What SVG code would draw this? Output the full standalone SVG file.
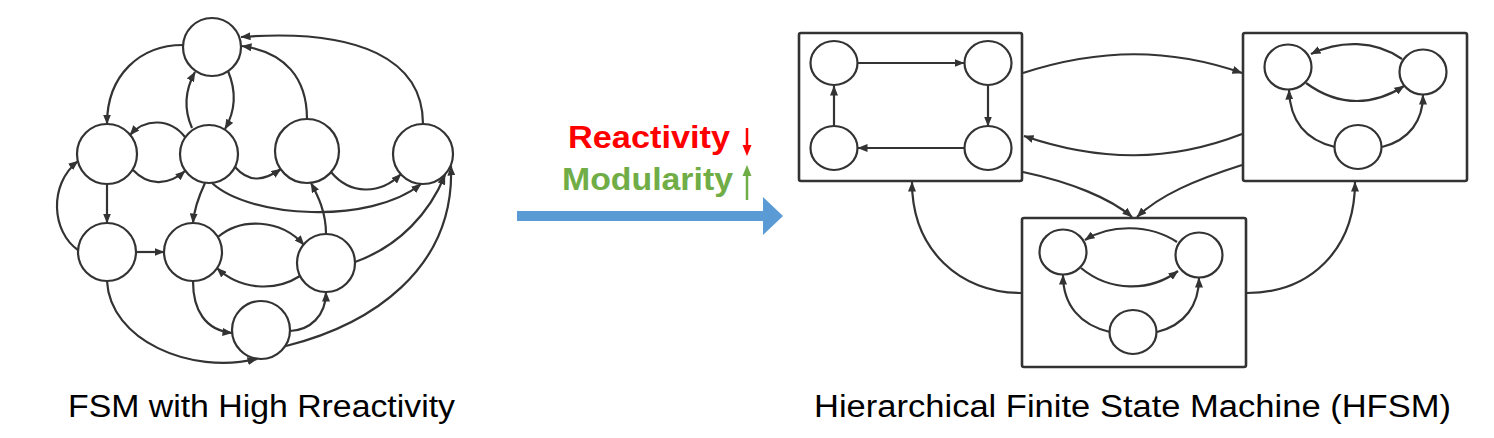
<svg xmlns="http://www.w3.org/2000/svg" width="1494" height="438" viewBox="0 0 1494 438">
<defs>
<marker id="ah" markerUnits="userSpaceOnUse" markerWidth="10" markerHeight="8" refX="9.5" refY="4" orient="auto">
<path d="M0,0 L10,4 L0,8 z" fill="#333"/>
</marker>
<style>
.n{fill:#fff;stroke:#333;stroke-width:2.2}
.b{fill:#fff;stroke:#333;stroke-width:2.6}
.e{fill:none;stroke:#333;stroke-width:2.2;marker-end:url(#ah)}
.lbl{font-family:"Liberation Sans",Arial,sans-serif;font-size:31px;fill:#000}
.mid{font-family:"Liberation Sans",Arial,sans-serif;font-size:32px;font-weight:bold}
</style>
</defs>
<rect width="1494" height="438" fill="#fff"/>

<!-- Left FSM nodes -->
<g id="fsm-nodes">
<circle id="f-top" class="n" cx="212" cy="47" r="29"/>
<circle id="f-a" class="n" cx="107" cy="154" r="30"/>
<circle id="f-b" class="n" cx="209" cy="154" r="29"/>
<circle id="f-c" class="n" cx="307" cy="151" r="32"/>
<circle id="f-d" class="n" cx="423" cy="154" r="30"/>
<circle id="f-e" class="n" cx="107" cy="252" r="29"/>
<circle id="f-f" class="n" cx="193" cy="252" r="29"/>
<circle id="f-g" class="n" cx="326" cy="263" r="29"/>
<circle id="f-h" class="n" cx="261" cy="330" r="29"/>
</g>

<g id="fsm-edges">
<path class="e" d="M183,45 C140,45 107,75 107,124"/>
<path class="e" d="M192,128 C184,110 184,92 195,72"/>
<path class="e" d="M228,71 C236,90 236,110 225,129"/>
<path class="e" d="M185,137 C170,118 145,118 130,135"/>
<path class="e" d="M133,170 C148,186 168,186 185,171"/>
<path class="e" d="M235,167 C250,184 265,180 281,169"/>
<path class="e" d="M307,119 C307,78 285,52 242,46"/>
<path class="e" d="M423,124 C423,60 360,28 241,37"/>
<path class="e" d="M331,172 C350,195 380,195 401,174"/>
<path class="e" d="M107,184 L107,223"/>
<path class="e" d="M78,250 C52,232 48,185 78,161"/>
<path class="e" d="M136,252 L164,252"/>
<path class="e" d="M205,183 C198,198 194,210 193,223"/>
<path class="e" d="M212,183 C250,218 370,225 421,184"/>
<path class="e" d="M218,237 C240,218 280,218 304,245"/>
<path class="e" d="M300,276 C275,292 240,290 217,268"/>
<path class="e" d="M326,234 C326,212 318,196 311,183"/>
<path class="e" d="M355,262 C400,246 430,212 445,175"/>
<path class="e" d="M193,281 C193,310 205,330 232,333"/>
<path class="e" d="M290,331 C310,330 326,316 326,292"/>
<path class="e" d="M107,281 C110,340 190,375 257,359"/>
<path class="e" d="M286,346 C370,325 455,270 451,166"/>
</g>

<!-- Middle -->
<g id="middle">
<text class="mid" x="568" y="148" fill="#ff0000" textLength="162" lengthAdjust="spacingAndGlyphs">Reactivity</text>
<text class="mid" x="562" y="190" fill="#70ad47" textLength="171" lengthAdjust="spacingAndGlyphs">Modularity</text>
<line x1="747" y1="128" x2="747" y2="147" stroke="#ff0000" stroke-width="2.5"/>
<polygon points="742.5,145 751.5,145 747,156" fill="#ff0000"/>
<line x1="747" y1="174" x2="747" y2="200" stroke="#70ad47" stroke-width="2.5"/>
<polygon points="742.5,176 751.5,176 747,165" fill="#70ad47"/>
<polygon points="517,211 763,211 763,197 783,216 763,235 763,221 517,221" fill="#5b9bd5"/>
</g>

<!-- Right HFSM -->
<g id="box1">
<rect class="b" x="799" y="33" width="223" height="148" rx="2"/>
<ellipse class="n" cx="834" cy="63" rx="23.5" ry="22"/>
<ellipse class="n" cx="988" cy="63" rx="23.5" ry="22"/>
<ellipse class="n" cx="834" cy="148" rx="23.5" ry="22"/>
<ellipse class="n" cx="988" cy="148" rx="23.5" ry="22"/>
<path class="e" d="M858,63 L964,63"/>
<path class="e" d="M988,86 L988,126"/>
<path class="e" d="M964,148 L858,148"/>
<path class="e" d="M834,126 L834,86"/>
</g>
<g id="box2">
<rect class="b" x="1243" y="33" width="224" height="148" rx="2"/>
<ellipse class="n" cx="1288" cy="67" rx="23.5" ry="22.5"/>
<ellipse class="n" cx="1423" cy="72" rx="23.5" ry="22.5"/>
<ellipse class="n" cx="1358" cy="147" rx="23.5" ry="22"/>
<path class="e" d="M1402,59 C1375,40 1340,40 1311,54"/>
<path class="e" d="M1306,83 C1340,108 1375,105 1404,86"/>
<path class="e" d="M1335,147 C1305,140 1290,120 1289,90"/>
<path class="e" d="M1382,147 C1410,140 1423,120 1423,95"/>
</g>
<g id="box3">
<rect class="b" x="1022" y="218" width="224" height="149" rx="2"/>
<ellipse class="n" cx="1063" cy="252" rx="23.5" ry="22.5"/>
<ellipse class="n" cx="1199" cy="255" rx="23.5" ry="22.5"/>
<ellipse class="n" cx="1133" cy="332" rx="23.5" ry="22"/>
<path class="e" d="M1177,242 C1150,224 1110,224 1085,240"/>
<path class="e" d="M1081,268 C1110,292 1150,292 1178,271"/>
<path class="e" d="M1110,332 C1080,325 1063,305 1063,275"/>
<path class="e" d="M1157,332 C1185,325 1199,305 1199,278"/>
</g>
<g id="hfsm-edges">
<path class="e" d="M1023,73 C1100,48 1170,48 1242,73"/>
<path class="e" d="M1242,134 C1170,162 1100,162 1024,136"/>
<path class="e" d="M1023,172 C1070,182 1110,198 1132,217"/>
<path class="e" d="M1242,165 C1195,180 1160,195 1137,217"/>
<path class="e" d="M1021,293 C960,293 912,250 912,182"/>
<path class="e" d="M1247,293 C1310,293 1355,250 1355,182"/>
</g>

<g id="labels">
<text class="lbl" x="68" y="417" textLength="387" lengthAdjust="spacingAndGlyphs">FSM with High Rreactivity</text>
<text class="lbl" x="814" y="417" textLength="637" lengthAdjust="spacingAndGlyphs">Hierarchical Finite State Machine (HFSM)</text>
</g>
</svg>
